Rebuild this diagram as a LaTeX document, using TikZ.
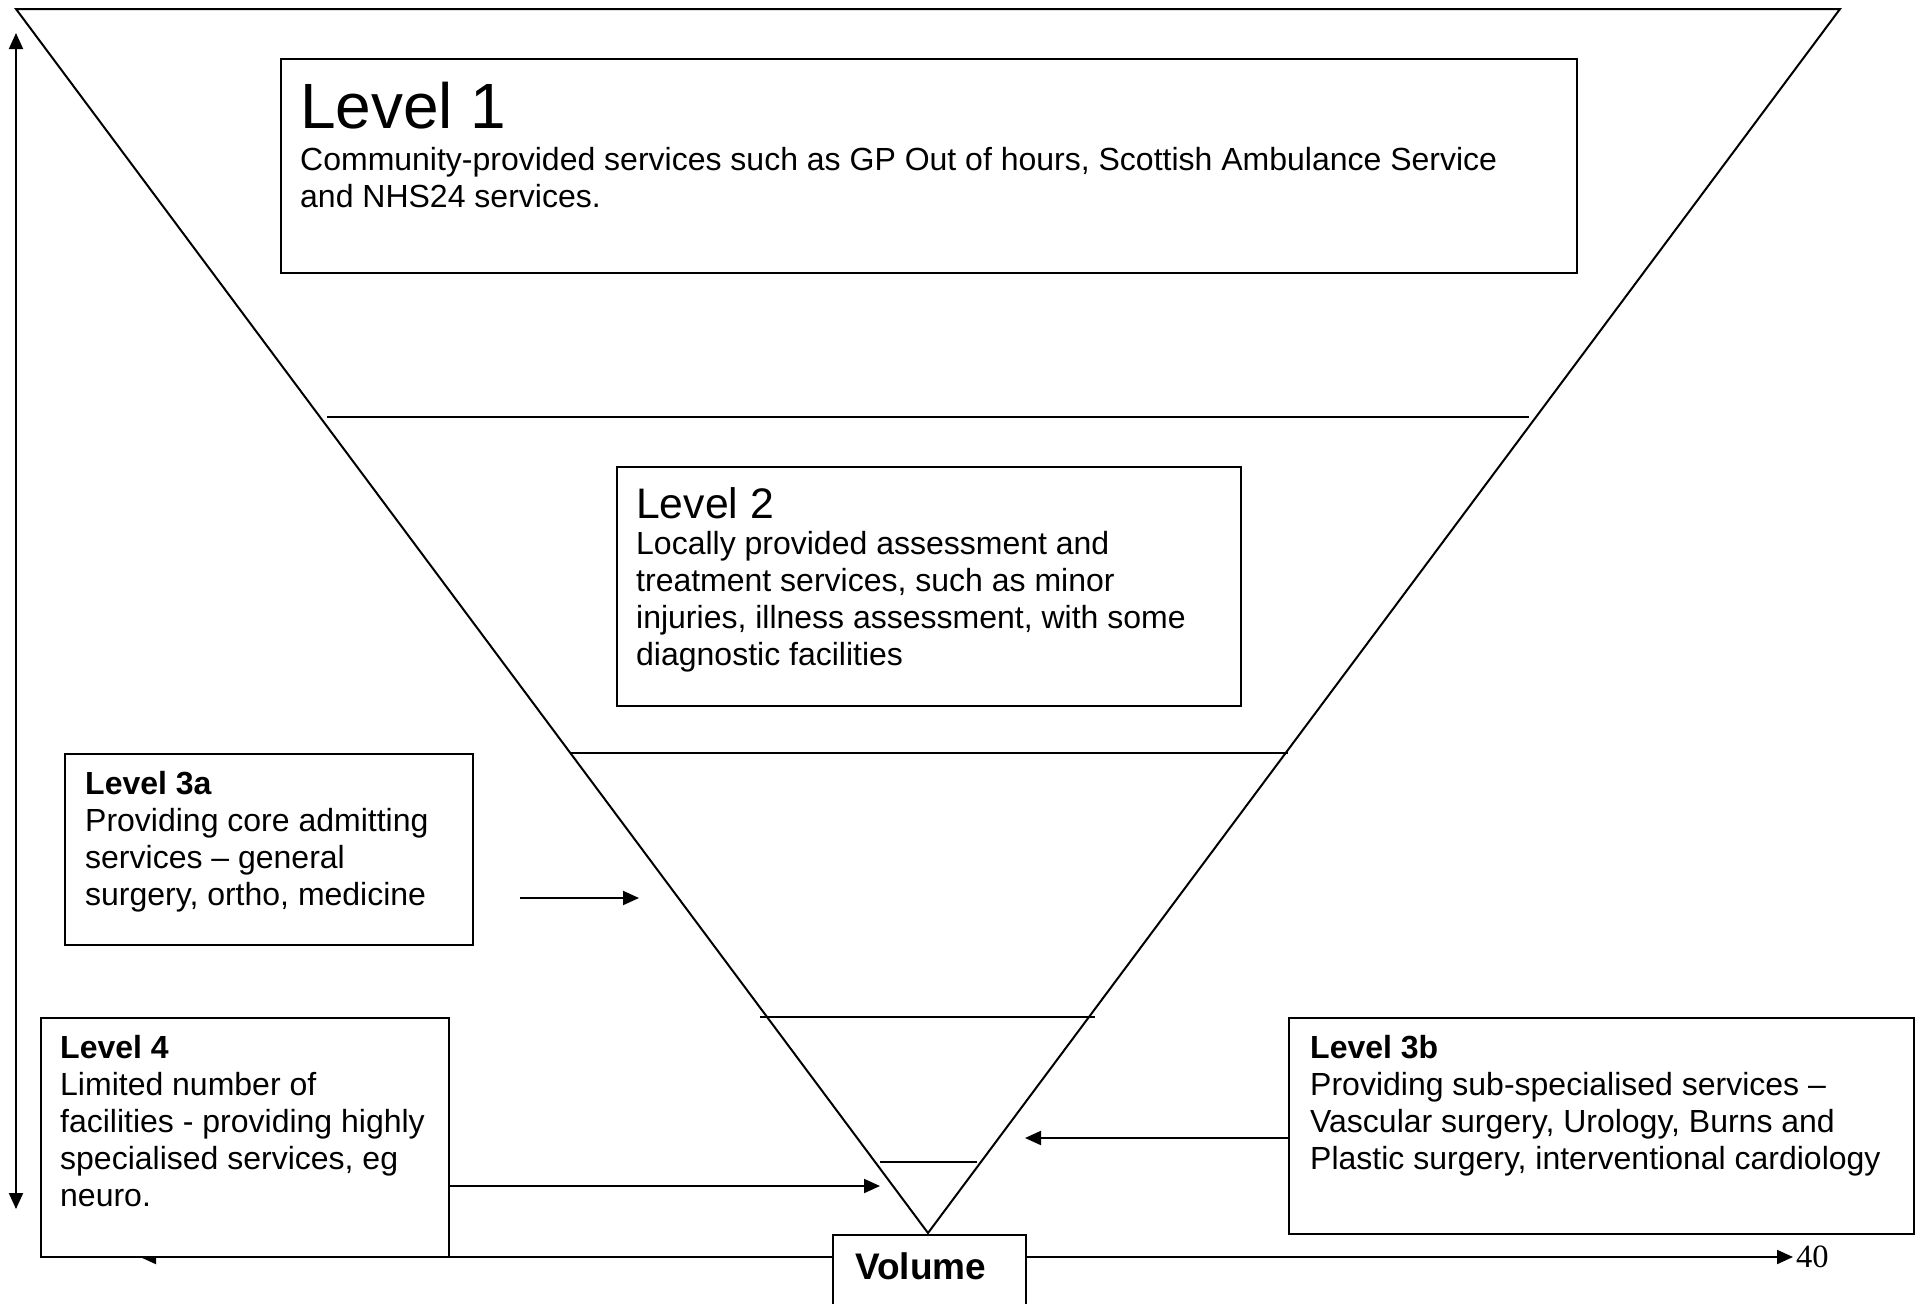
\documentclass[tikz,border=0pt]{standalone}
\usepackage{fontspec}
\setmainfont{Liberation Sans}
\newfontfamily\numfont{Liberation Serif}
\usetikzlibrary{arrows.meta}
\tikzset{
  ln/.style={line width=2pt},
  boxnode/.style={draw, line width=2pt, rectangle, inner sep=0pt, anchor=north west},
  arr/.style={line width=2pt, -{Triangle[length=16pt,width=14pt]}},
  bodytext/.style={font=\fontsize{32}{37}\selectfont, align=left, anchor=north west, inner sep=0pt},
  ttl/.style={anchor=base west, inner sep=0pt},
  smallttl/.style={ttl, font=\bfseries\fontsize{32}{37}\selectfont}
}
\begin{document}
\begin{tikzpicture}[x=1pt,y=-1pt]
\useasboundingbox (0,0) rectangle (1923,1304);
\clip (0,0) rectangle (1923,1304);

% inverted triangle
\coordinate (tl) at (16,9);
\coordinate (tr) at (1840,9);
\coordinate (apex) at (928,1233);
\draw[ln, line join=miter] (tl) -- (tr) -- (apex) -- cycle;

% level separating lines
\coordinate (s1a) at (327,417);  \coordinate (s1b) at (1529,417);
\coordinate (s2a) at (570,753);  \coordinate (s2b) at (1288,753);
\coordinate (s3a) at (760,1017); \coordinate (s3b) at (1095,1017);
\coordinate (s4a) at (880,1162); \coordinate (s4b) at (977,1162);
\draw[ln] (s1a) -- (s1b);
\draw[ln] (s2a) -- (s2b);
\draw[ln] (s3a) -- (s3b);
\draw[ln] (s4a) -- (s4b);

% vertical double arrow
\coordinate (vtop) at (16,33);
\coordinate (vbot) at (16,1209);
\draw[line width=2pt, {Triangle[length=16pt,width=14pt]}-{Triangle[length=16pt,width=14pt]}] (vbot) -- (vtop);

% volume box (placed first so the left arrow can be drawn under Level 4 box)
\node[boxnode, fill=white, minimum width=193pt, minimum height=100pt] (vol) at (832,1234) {};
\coordinate (vl) at (140,1257);
\coordinate (vr) at (1793,1257);
\draw[arr] (vol.west |- vl) -- (vl);
\draw[arr] (vol.east |- vr) -- (vr);

% boxes
\node[boxnode, fill=white, minimum width=1296pt, minimum height=214pt] (b1) at (280,58) {};
\node[boxnode, fill=white, minimum width=624pt, minimum height=239pt] (b2) at (616,466) {};
\node[boxnode, fill=white, minimum width=408pt, minimum height=191pt] (b3a) at (64,753) {};
\node[boxnode, fill=white, minimum width=408pt, minimum height=239pt] (b4) at (40,1017) {};
\node[boxnode, fill=white, minimum width=625pt, minimum height=216pt] (b3b) at (1288,1017) {};

% texts
\node[ttl, font=\fontsize{64}{74}\selectfont] (t1) at (300,128) {Level 1};
\node[bodytext] (d1) at (300,147) {Community-provided services such as GP Out of hours, Scottish Ambulance Service\\and NHS24 services.};

\node[ttl, font=\fontsize{42.7}{49}\selectfont] (t2) at (636,518) {Level 2};
\node[bodytext] (d2) at (636,531) {Locally provided assessment and\\treatment services, such as minor\\injuries, illness assessment, with some\\diagnostic facilities};

\node[smallttl] (t3a) at (85,794) {Level 3a};
\node[bodytext] (d3a) at (85,808) {Providing core admitting\\services \textendash{} general\\surgery, ortho, medicine};

\node[smallttl] (t4) at (60,1058) {Level 4};
\node[bodytext] (d4) at (60,1072) {Limited number of\\facilities - providing highly\\specialised services, eg\\neuro.};

\node[smallttl] (t3b) at (1310,1058) {Level 3b};
\node[bodytext] (d3b) at (1310,1072) {Providing sub-specialised services \textendash\\Vascular surgery, Urology, Burns and\\Plastic surgery, interventional cardiology};

\node[ttl, font=\bfseries\fontsize{37}{42}\selectfont] (tv) at (855,1279) {Volume};
\node[ttl, font=\numfont\fontsize{32.5}{37}\selectfont] (pg) at (1796,1267) {40};

% arrows
\coordinate (a3from) at (520,898);
\coordinate (a3to) at (639,898);
\draw[arr] (a3from) -- (a3to);

\coordinate (a4to) at (880,1186);
\draw[arr] (b4.east |- a4to) -- (a4to);

\coordinate (a3bto) at (1025,1138);
\draw[arr] (b3b.west |- a3bto) -- (a3bto);
\end{tikzpicture}
\end{document}
